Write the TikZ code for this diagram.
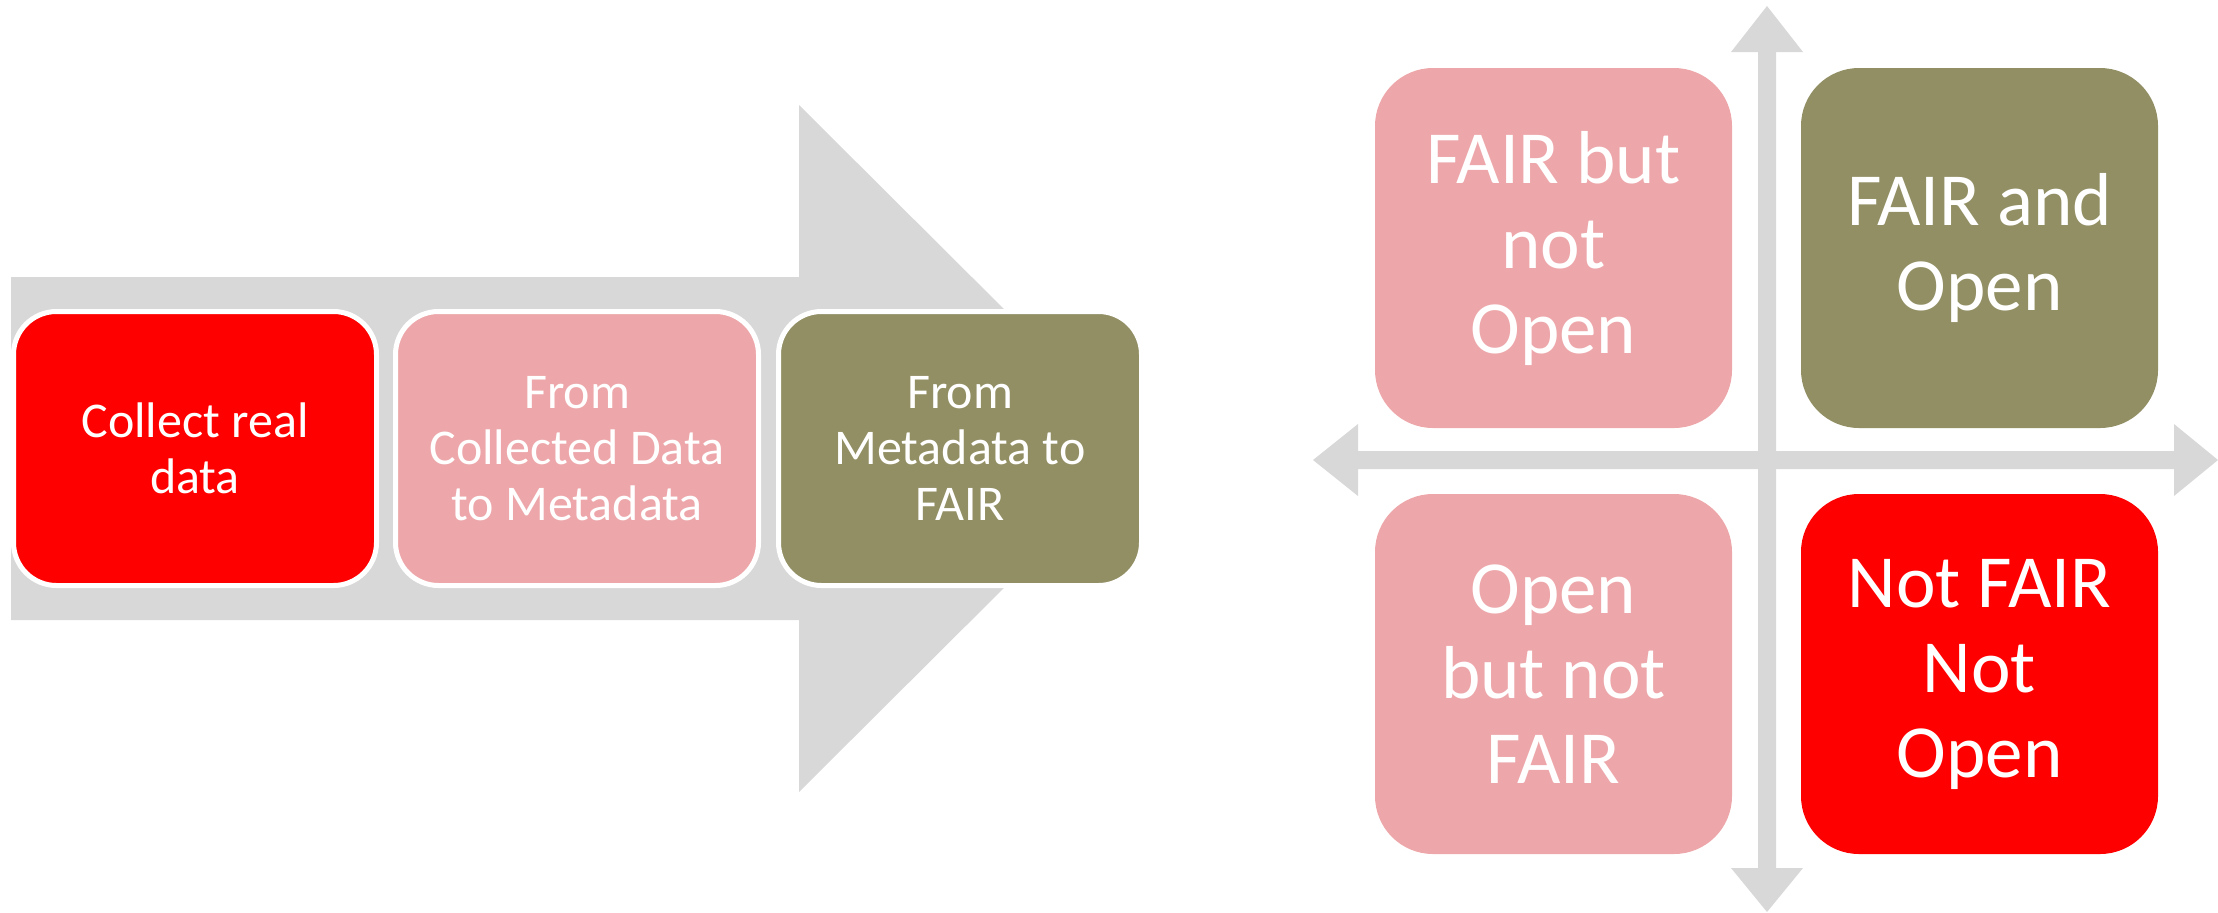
\documentclass[tikz,border=0pt]{standalone}
\usepackage{fontspec}
\setmainfont{Carlito}
\definecolor{arrowgray}{HTML}{D8D8D8}
\definecolor{boxred}{HTML}{FF0000}
\definecolor{boxpink}{HTML}{EDA7AA}
\definecolor{boxolive}{HTML}{928F64}

\begin{document}
\begin{tikzpicture}[x=0.5pt,y=-0.5pt,
  stage/.style={rounded corners=21.5pt, draw=white, line width=2.5pt,
    minimum width=181.5pt, minimum height=137pt, inner sep=0pt, outer sep=0pt,
    align=center, text=white, font=\fontsize{25}{28}\selectfont},
  quad/.style={rounded corners=29pt, minimum width=178.5pt, minimum height=180pt,
    inner sep=0pt, outer sep=0pt, align=center, text=white,
    font=\fontsize{37.5}{42.5}\selectfont},
  axis/.style={fill=arrowgray, draw=none}]

\useasboundingbox (0,0) rectangle (2218,912);

% process arrow behind the three stages
\fill[arrowgray] (11,277) -- (799,277) -- (799,105) -- (1144,448.5)
  -- (799,792) -- (799,620) -- (11,620) -- cycle;

\node[stage, fill=boxred]   (collect) at (195,448.5) {Collect real\\data};
\node[stage, fill=boxpink]  (tometa)  at (577,448.5) {From\\Collected Data\\to Metadata};
\node[stage, fill=boxolive] (tofair)  at (960,448.5) {From\\Metadata to\\FAIR};

% quadrant axes
\path[axis] (1313,460) -- (1358,424) -- (1358,451) -- (2174,451) -- (2174,424)
  -- (2218,460) -- (2174,496) -- (2174,469) -- (1358,469) -- (1358,496) -- cycle;
\path[axis] (1767,6) -- (1803,52) -- (1776,52) -- (1776,868) -- (1803,868)
  -- (1767,912) -- (1731,868) -- (1758,868) -- (1758,52) -- (1731,52) -- cycle;

% quadrants
\node[quad, fill=boxpink]  (fairnotopen) at (1553.5,248) {FAIR but\\not\\Open};
\node[quad, fill=boxolive] (fairopen)    at (1979.5,248) {FAIR and\\Open};
\node[quad, fill=boxpink]  (opennotfair) at (1553.5,674) {Open\\but not\\FAIR};
\node[quad, fill=boxred]   (neither)     at (1979.5,674) {Not FAIR\\Not\\Open};
\end{tikzpicture}
\end{document}
